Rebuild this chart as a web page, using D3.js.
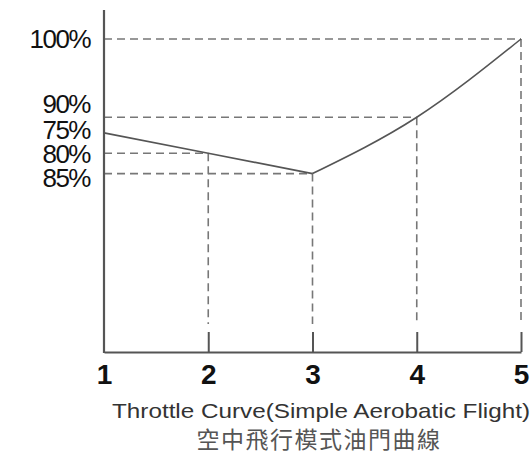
<!DOCTYPE html>
<html>
<head>
<meta charset="utf-8">
<script src="https://cdn.jsdelivr.net/npm/d3@7"></script>
<style>
  body { margin: 0; background: #fff; }
  svg { display: block; }
</style>
</head>
<body>
<div id="chart"></div>
<script>
// stick positions and throttle output
var stickPos = [1, 2, 3, 4, 5];
var throttle = [70, 63.5, 57, 75, 100];

// y labels as printed, and where they sit on the percent scale
var yLabels = ["100%", "90%", "75%", "80%", "85%"];
var yLabelAt = [100, 79.2, 71, 63.3, 55.6];

var titleEn = "Throttle Curve(Simple Aerobatic Flight)";
var titleZh = "空中飛行模式油門曲線";

var width = 532, height = 456;

var svg = d3.select("#chart").append("svg")
    .attr("width", width)
    .attr("height", height);

var x = d3.scaleLinear().domain([1, 5]).range([104, 521]);
var y = d3.scaleLinear().domain([0, 100]).range([352, 39]);

var pts = stickPos.map(function(d, i) { return {x: d, y: throttle[i]}; });

// dashed guides
var guides = svg.append("g")
    .attr("stroke", "#777")
    .attr("stroke-width", 1.6)
    .attr("stroke-dasharray", "8,5");

guides.selectAll("line.h")
    .data(pts.slice(1))
    .enter().append("line")
    .attr("class", "h")
    .attr("x1", x(1))
    .attr("x2", function(d) { return x(d.x); })
    .attr("y1", function(d) { return y(d.y); })
    .attr("y2", function(d) { return y(d.y); });

guides.selectAll("line.v")
    .data(pts.slice(1))
    .enter().append("line")
    .attr("class", "v")
    .attr("x1", function(d) { return x(d.x); })
    .attr("x2", function(d) { return x(d.x); })
    .attr("y1", function(d) { return y(d.y); })
    .attr("y2", 324);

// axes
var xAxis = d3.axisBottom(x)
    .tickValues(stickPos)
    .tickFormat(d3.format("d"))
    .tickSizeInner(-20)
    .tickSizeOuter(0)
    .tickPadding(34);

var gx = svg.append("g")
    .attr("transform", "translate(0," + y(0) + ")")
    .call(xAxis);
gx.select(".domain").attr("stroke", "#555").attr("stroke-width", 2.2);
gx.selectAll(".tick line").attr("stroke", "#555").attr("stroke-width", 2);
gx.selectAll(".tick text")
    .attr("font-family", "Liberation Sans, Arial, sans-serif")
    .attr("font-size", 28)
    .attr("font-weight", "bold")
    .attr("fill", "#111")
    .attr("y", 12)
    .attr("dy", "0.71em");
gx.selectAll(".tick").filter(function(d) { return d === 1; }).select("line").remove();

svg.append("line")
    .attr("x1", x(1)).attr("x2", x(1))
    .attr("y1", 10).attr("y2", y(0) + 1)
    .attr("stroke", "#555")
    .attr("stroke-width", 2.2);

svg.append("g").selectAll("text")
    .data(yLabels)
    .enter().append("text")
    .attr("x", 90)
    .attr("y", function(d, i) { return y(yLabelAt[i]); })
    .attr("dy", "0.36em")
    .attr("text-anchor", "end")
    .attr("font-family", "Liberation Sans, Arial, sans-serif")
    .attr("font-size", 26)
    .attr("letter-spacing", -1.5)
    .attr("fill", "#111")
    .text(function(d) { return d; });

// the curve: straight down to 3, then bending up to 5
var line = d3.line()
    .x(function(d) { return x(d.x); })
    .y(function(d) { return y(d.y); });

svg.append("path")
    .datum(pts.slice(0, 3))
    .attr("d", line.curve(d3.curveLinear))
    .attr("fill", "none")
    .attr("stroke", "#555")
    .attr("stroke-width", 1.6);

svg.append("path")
    .datum(pts.slice(2))
    .attr("d", line.curve(d3.curveMonotoneX))
    .attr("fill", "none")
    .attr("stroke", "#555")
    .attr("stroke-width", 1.6);

// captions
svg.append("text")
    .attr("x", 112)
    .attr("y", 418)
    .attr("textLength", 418)
    .attr("lengthAdjust", "spacingAndGlyphs")
    .attr("font-family", "Liberation Sans, Arial, sans-serif")
    .attr("font-size", 21)
    .attr("fill", "#333")
    .text(titleEn);

svg.append("text")
    .attr("x", 319)
    .attr("y", 448)
    .attr("text-anchor", "middle")
    .attr("font-family", "Noto Sans CJK TC, sans-serif")
    .attr("font-size", 23)
    .attr("letter-spacing", 1.5)
    .attr("fill", "#555")
    .text(titleZh);
</script>
</body>
</html>
